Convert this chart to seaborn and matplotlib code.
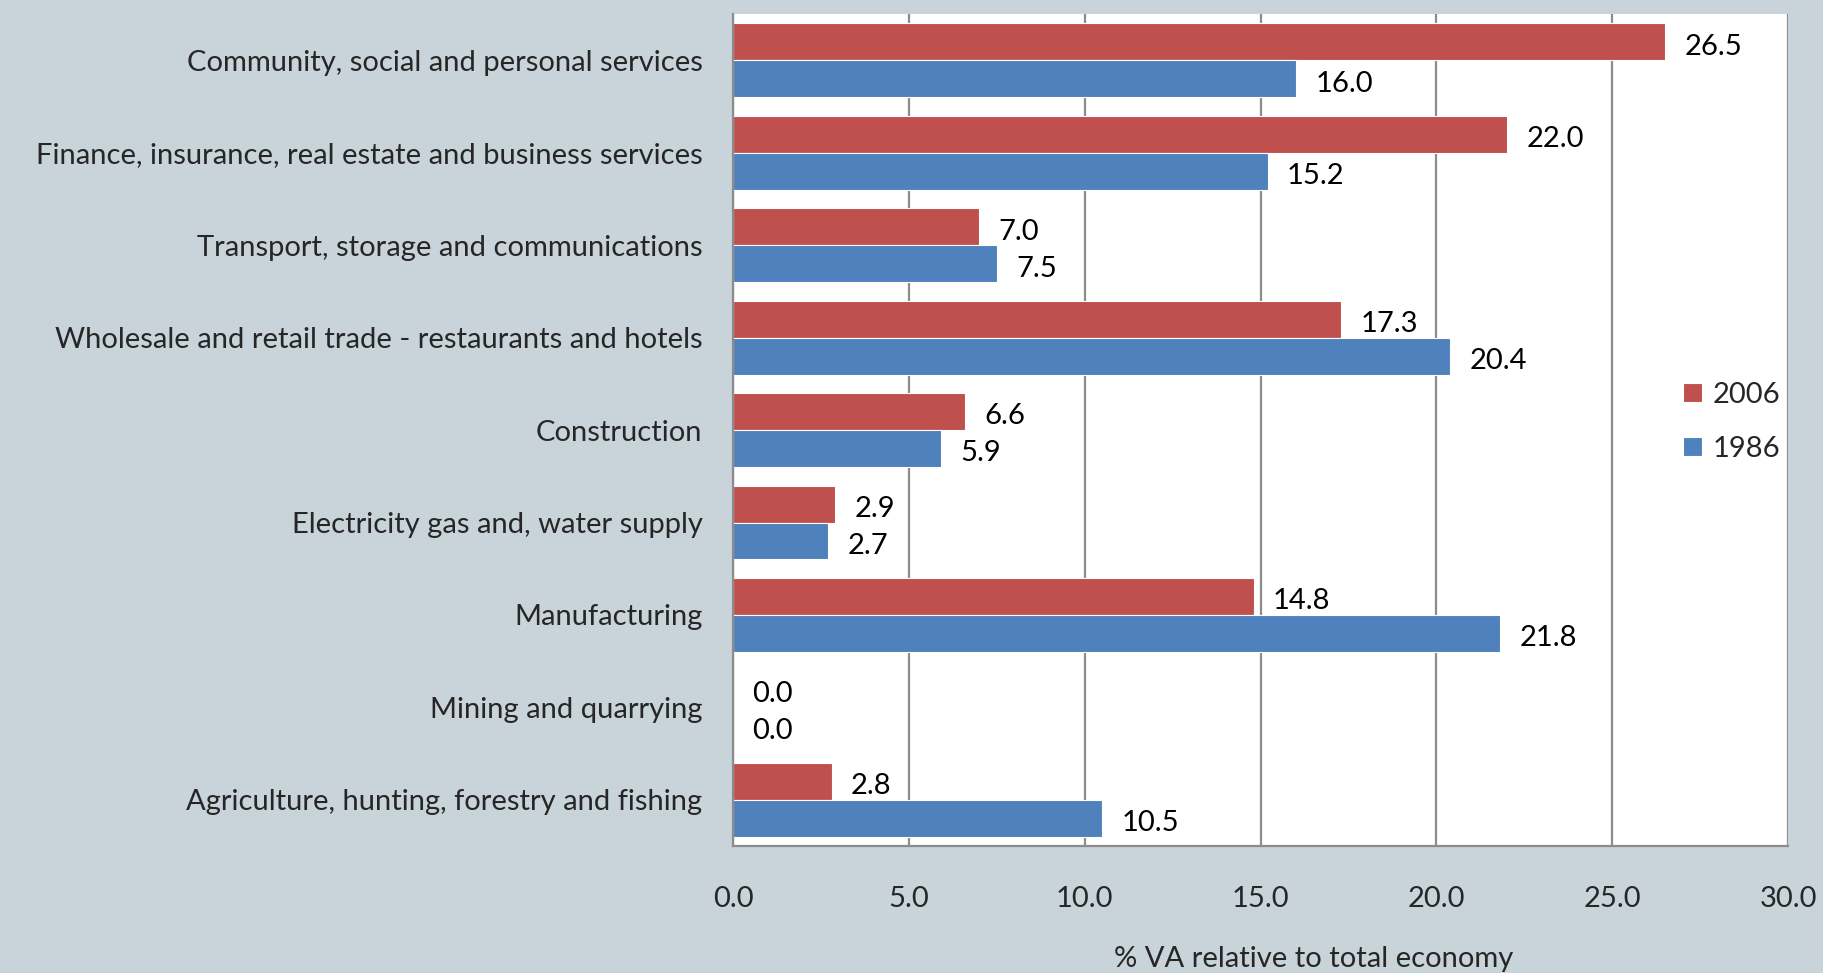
import matplotlib

matplotlib.use("Agg")

import matplotlib.pyplot as plt  # noqa: E402
import numpy as np  # noqa: E402
import pandas as pd  # noqa: E402
import seaborn as sns  # noqa: E402

sectors = [
    "Community, social and personal services",
    "Finance, insurance, real estate and business services",
    "Transport, storage and communications",
    "Wholesale and retail trade - restaurants and hotels",
    "Construction",
    "Electricity gas and, water supply",
    "Manufacturing",
    "Mining and quarrying",
    "Agriculture, hunting, forestry and fishing",
]
va_2006 = [26.5, 22.0, 7.0, 17.3, 6.6, 2.9, 14.8, 0.0, 2.8]
va_1986 = [16.0, 15.2, 7.5, 20.4, 5.9, 2.7, 21.8, 0.0, 10.5]
years = ["2006", "1986"]
colors = ["#C0504D", "#4F81BD"]
x_ticks = [0, 5, 10, 15, 20, 25, 30]

df = pd.DataFrame({
    "sector": sectors * 2,
    "value": va_2006 + va_1986,
    "year": ["2006"] * len(sectors) + ["1986"] * len(sectors),
})

sns.set_style("white")
plt.rcParams["font.family"] = ["Lato", "DejaVu Sans"]

bg = "#C8D3DA"
grid_c = "#8C8C8C"
fs = 21

fig = plt.figure(figsize=(18.24, 9.73), dpi=100, facecolor=bg)
ax = fig.add_axes([0.4019, 0.1305, 0.5784, 0.855])
ax.set_facecolor("white")

sns.barplot(
    data=df, x="value", y="sector", hue="year", order=sectors,
    hue_order=years, palette=colors, orient="h", width=0.8,
    edgecolor="white", linewidth=0.8, saturation=1, ax=ax,
)

for cont in ax.containers:
    texts = ax.bar_label(cont, fmt="%.1f", padding=14, fontsize=fs, color="black")
    # nudge labels a touch lower, as in the original
    for t in texts:
        t.xyann = (t.xyann[0], t.xyann[1] - 3.5)

ax.set_xlim(0, 30)
ax.set_ylim(len(sectors) - 0.5, -0.5)
ax.set_xticks(x_ticks)
ax.set_xticklabels([f"{t:.1f}" for t in x_ticks])
ax.grid(axis="x", color=grid_c, linewidth=1.6)
ax.grid(axis="y", visible=False)
ax.set_axisbelow(True)

# category ticks sit between groups, like the spreadsheet chart
ax.set_yticks(np.arange(-0.5, len(sectors), 1), minor=True)
ax.tick_params(axis="y", which="major", length=0, pad=22, labelsize=fs)
ax.tick_params(axis="y", which="minor", length=9, width=1.6, color=grid_c, direction="out")
ax.tick_params(axis="x", which="major", length=10, width=1.6, color=grid_c,
               direction="out", pad=19, labelsize=fs)

for side in ["top", "right"]:
    ax.spines[side].set_visible(False)
for side in ["left", "bottom"]:
    ax.spines[side].set_color(grid_c)
    ax.spines[side].set_linewidth(1.6)

ax.set_ylabel("")
ax.set_xlabel("% VA relative to total economy", fontsize=fs)
ax.xaxis.set_label_coords(0.55, -0.12)

handles, labels = ax.get_legend_handles_labels()
ax.legend(handles, labels, loc="center left", bbox_to_anchor=(0.876, 0.51),
          frameon=False, fontsize=fs, handlelength=0.65, handleheight=0.65,
          handletextpad=0.35, labelspacing=0.95)

fig.savefig("out.png", dpi=100, facecolor=bg)
